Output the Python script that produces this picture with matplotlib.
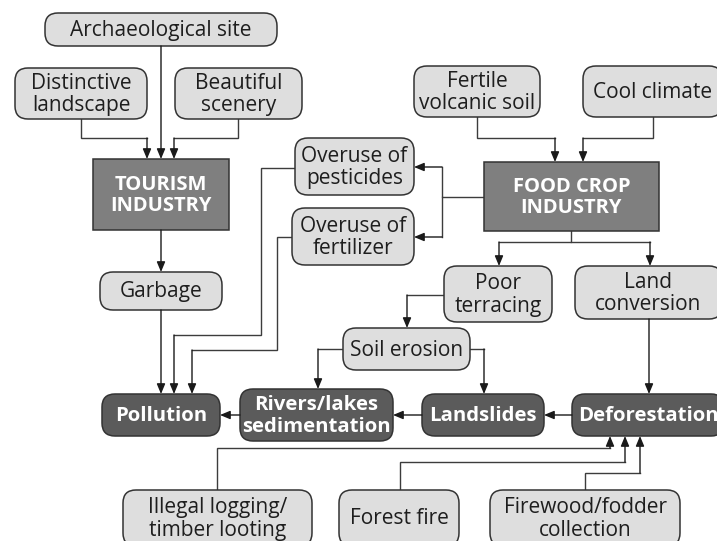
import matplotlib.pyplot as plt
from matplotlib.patches import FancyBboxPatch

plt.rcParams['font.family'] = ['Open Sans', 'DejaVu Sans']

# node labels
light_labels = {
    'arch': 'Archaeological site',
    'dist': 'Distinctive\nlandscape',
    'beaut': 'Beautiful\nscenery',
    'garb': 'Garbage',
    'pest': 'Overuse of\npesticides',
    'fert': 'Overuse of\nfertilizer',
    'soilv': 'Fertile\nvolcanic soil',
    'cool': 'Cool climate',
    'poor': 'Poor\nterracing',
    'landc': 'Land\nconversion',
    'soil': 'Soil erosion',
    'illegal': 'Illegal logging/\ntimber looting',
    'fire': 'Forest fire',
    'firewood': 'Firewood/fodder\ncollection',
}
industry_labels = {
    'tour': 'TOURISM\nINDUSTRY',
    'food': 'FOOD CROP\nINDUSTRY',
}
impact_labels = {
    'poll': 'Pollution',
    'rivers': 'Rivers/lakes\nsedimentation',
    'lands': 'Landslides',
    'defo': 'Deforestation',
}

# layout in pixels (x0, y0, x1, y1), y measured from the top
boxes = {
    'arch': (45, 13, 277, 46),
    'dist': (15, 68, 147, 119),
    'beaut': (175, 68, 302, 119),
    'tour': (93, 159, 229, 230),
    'garb': (100, 272, 222, 310),
    'pest': (295, 138, 414, 195),
    'fert': (292, 208, 414, 265),
    'soilv': (414, 66, 540, 117),
    'cool': (583, 66, 722, 117),
    'food': (484, 162, 659, 231),
    'poor': (444, 266, 552, 322),
    'landc': (575, 266, 722, 319),
    'soil': (343, 328, 470, 370),
    'poll': (102, 394, 220, 436),
    'rivers': (240, 389, 393, 441),
    'lands': (422, 394, 544, 436),
    'defo': (572, 394, 724, 436),
    'illegal': (123, 490, 312, 546),
    'fire': (339, 490, 459, 546),
    'firewood': (490, 490, 680, 546),
}

# connectors: polyline points, the last point gets the arrow head
links = [
    [(81, 119), (81, 138), (147, 138), (147, 159)],
    [(161, 46), (161, 159)],
    [(238, 119), (238, 138), (174, 138), (174, 159)],
    [(161, 230), (161, 272)],
    [(161, 310), (161, 394)],
    [(295, 168), (261, 168), (261, 335), (174, 335), (174, 394)],
    [(292, 237), (277, 237), (277, 350), (192, 350), (192, 394)],
    [(477, 117), (477, 138), (555, 138), (555, 162)],
    [(653, 117), (653, 138), (583, 138), (583, 162)],
    [(484, 197), (442, 197), (442, 167), (414, 167)],
    [(442, 197), (442, 237), (414, 237)],
    [(571, 231), (571, 242), (499, 242), (499, 266)],
    [(571, 242), (650, 242), (650, 266)],
    [(444, 295), (407, 295), (407, 328)],
    [(343, 349), (318, 349), (318, 389)],
    [(470, 349), (484, 349), (484, 394)],
    [(649, 319), (649, 394)],
    [(572, 415), (544, 415)],
    [(422, 415), (393, 415)],
    [(240, 415), (220, 415)],
    [(217, 490), (217, 448), (610, 448), (610, 436)],
    [(400, 490), (400, 462), (625, 462), (625, 436)],
    [(585, 490), (585, 473), (640, 473), (640, 436)],
]

fig = plt.figure(figsize=(7.17, 5.41), dpi=100)
ax = fig.add_axes([0, 0, 1, 1])
ax.set_xlim(0, 717)
ax.set_ylim(541, 0)
ax.axis('off')

line_col = '#3c3c3c'


def draw_box(key, text, fill, txtcol, weight, rounded, size):
    x0, y0, x1, y1 = boxes[key]
    style = 'round,pad=0,rounding_size=13' if rounded else 'square,pad=0'
    ax.add_patch(FancyBboxPatch((x0, y0), x1 - x0, y1 - y0, boxstyle=style,
                                fc=fill, ec='#333333', lw=1.1, zorder=2))
    ax.text((x0 + x1) / 2, (y0 + y1) / 2 + 1, text, ha='center', va='center',
            color=txtcol, fontsize=size, fontweight=weight, linespacing=1.08,
            zorder=3)


for k, t in light_labels.items():
    draw_box(k, t, '#dedede', '#1e1e1e', 'normal', True, 15)
for k, t in industry_labels.items():
    draw_box(k, t, '#7f7f7f', 'white', 'bold', False, 14.5)
for k, t in impact_labels.items():
    draw_box(k, t, '#5b5b5b', 'white', 'bold', True, 14.7)

for pts in links:
    xs = [p[0] for p in pts]
    ys = [p[1] for p in pts]
    ax.plot(xs[:-1], ys[:-1], color=line_col, lw=1.0, zorder=1,
            solid_joinstyle='miter')
    ax.annotate('', xy=pts[-1], xytext=pts[-2], zorder=4,
                arrowprops=dict(arrowstyle='-|>,head_length=0.6,head_width=0.25',
                                color='#1a1a1a', lw=1.0, shrinkA=0, shrinkB=0))

fig.savefig('out.png', dpi=100)
